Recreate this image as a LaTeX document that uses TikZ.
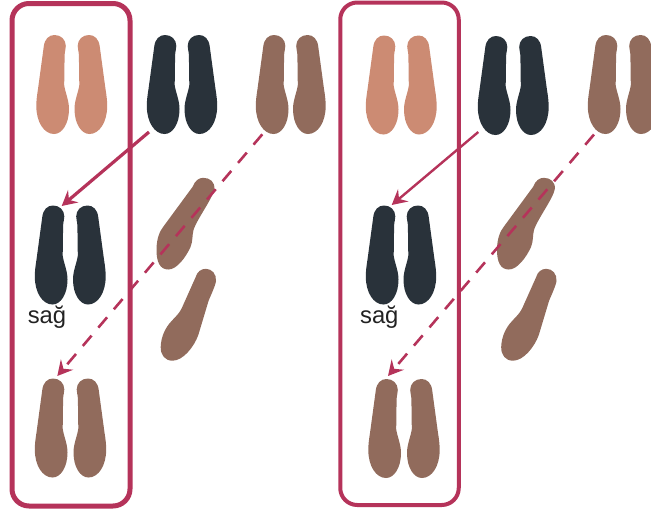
\documentclass[tikz,border=0pt]{standalone}
\usepackage{fontspec}
\setmainfont{Liberation Sans}
\usetikzlibrary{arrows.meta}
\definecolor{skin}{HTML}{CC8B73}
\definecolor{darksole}{HTML}{29323A}
\definecolor{brownsole}{HTML}{916B5C}
\definecolor{frame}{HTML}{B5335A}
\definecolor{inktext}{HTML}{222222}
\tikzset{
  framebox/.style={draw=frame,rounded corners=17pt},
  linkarrow/.style={draw=frame,-{Stealth[length=15pt,width=16pt,inset=5.5pt]}},
  dashlink/.style={linkarrow,line width=2.6pt,dash pattern=on 13.5pt off 10.5pt},
  saglabel/.style={inner sep=0pt,anchor=base,text=inktext,font=\fontsize{23.8pt}{26pt}\selectfont}
}
\newcommand{\solepath}{(-11.3,12) .. controls (-10.6,4) and (-6,0) .. (-0.5,0) .. controls (6,0) and (10.8,4.5) .. (10.8,11)
  .. controls (10.8,14) and (9.8,16) .. (9.6,20) -- (9.2,50) .. controls (10,57) and (14,65) .. (14,74)
  .. controls (14,89) and (7,99) .. (-1,99) .. controls (-11,99) and (-18.7,87) .. (-18.7,71)
  .. controls (-18.7,66) and (-18,60) .. (-17,54) -- cycle}
\newcommand{\sole}[4]{\fill[#4,shift={(#1,#2)},xscale=#3] \solepath;}
\newcommand{\pair}[5]{\sole{#1}{#2}{1}{#5}\sole{#3}{#4}{-1}{#5}}
\newcommand{\tiltA}[1]{\fill[brownsole,shift={(#1,0)}] (192.7,186.7) .. controls (195,180.5) and (199,177.8) .. (203.3,177.8)
  .. controls (210,177.8) and (215,182) .. (214.3,189) .. controls (213,198) and (197,219) .. (193.5,230)
  .. controls (192,236) and (193,241) .. (190.5,247) .. controls (186,257) and (177,269.5) .. (168.3,269.5)
  .. controls (160,269.5) and (156.5,262) .. (156.5,250) .. controls (156.5,238) and (160,231) .. (163.3,226.7) -- cycle;}
\newcommand{\tiltB}[1]{\fill[brownsole,shift={(#1,0)}] (195.7,277) .. controls (197,272) and (201,268.8) .. (205.7,268.8)
  .. controls (212,268.8) and (216.5,274) .. (216,281) .. controls (215.5,286) and (209,299) .. (208.3,301.7)
  -- (198.3,335) .. controls (194,347) and (183,360.7) .. (172.5,360.7) .. controls (165,360.7) and (160.5,355) .. (160.7,347)
  .. controls (161,336) and (166,327) .. (171,321.7) .. controls (175,317) and (179,314) .. (181.7,308.3) -- cycle;}
\begin{document}
\begin{tikzpicture}[x=1pt,y=-1pt]
\useasboundingbox (0,0) rectangle (651,515);
\clip (0,0) rectangle (651,515);
% left panel soles
\pair{55}{35}{88.5}{35}{skin}
\pair{165.5}{35}{198.5}{35}{darksole}
\pair{274.5}{35}{307}{35}{brownsole}
\pair{53.5}{205.5}{87}{205.5}{darksole}
\pair{53.5}{378.5}{87.5}{378.5}{brownsole}
\tiltA{0}\tiltB{0}
% right panel soles
\pair{384.5}{35.5}{418}{35.5}{skin}
\pair{496.5}{36}{530}{36}{darksole}
\pair{606.5}{35}{640}{35}{brownsole}
\pair{384.5}{205.5}{417.5}{205.5}{darksole}
\pair{387}{379}{421}{379}{brownsole}
\tiltA{340.5}\tiltB{340.5}
% frames
\node[framebox,line width=5pt,minimum width=118pt,minimum height=502.5pt,inner sep=0pt] (frameL) at (71,254.75) {};
\node[framebox,line width=4pt,minimum width=118.5pt,minimum height=502.5pt,inner sep=0pt] (frameR) at (399.5,253.75) {};
% labels
\node[saglabel] (sagL) at (47,323.5) {sağ};
\node[saglabel] (sagR) at (379.3,323.5) {sağ};
% connector ends
\coordinate (aS) at (149,132);
\coordinate (aE) at (61.7,206);
\coordinate (bS) at (262.3,134.3);
\coordinate (bE) at (57.3,376);
\coordinate (cS) at (478.3,132);
\coordinate (cE) at (391.7,205);
\coordinate (dS) at (594,134.5);
\coordinate (dE) at (388,376);
\draw[linkarrow,line width=3.2pt] (aS) -- (aE);
\draw[dashlink] (bS) -- (bE);
\draw[linkarrow,line width=2.4pt] (cS) -- (cE);
\draw[dashlink] (dS) -- (dE);
\end{tikzpicture}
\end{document}
